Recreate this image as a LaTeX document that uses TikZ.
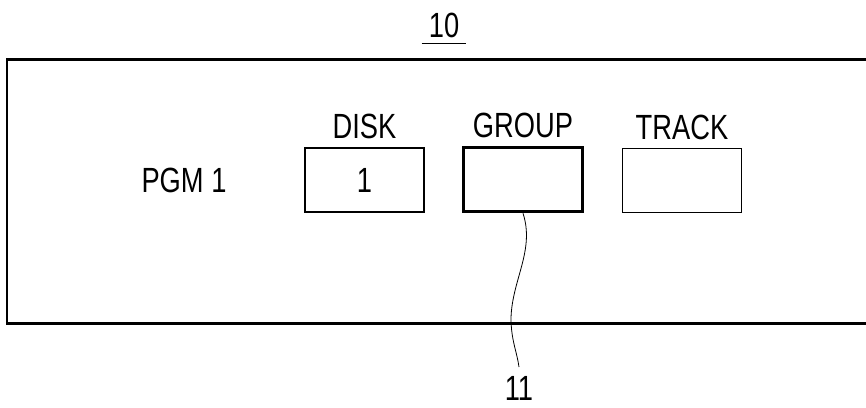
\documentclass[tikz,border=0pt]{standalone}
\usepackage{fontspec}
\setmainfont{Liberation Sans}[FakeStretch=0.78]
\usetikzlibrary{positioning}

\begin{document}
\begin{tikzpicture}[x=1pt, y=-1pt,
    txt/.style={font=\fontsize{35}{40}\selectfont, inner sep=0pt},
    field/.style={draw, line width=1.6pt, minimum width=119pt, minimum height=64pt,
                  inner sep=0pt, font=\fontsize{35}{40}\selectfont}]
    \useasboundingbox (0,0) rectangle (866,407) ;
    % panel
    \draw [line width=2.4pt] (866,59.5) -- (7,59.5) -- (7,323.5) -- (866,323.5) ;
    \node [txt] (ten) at (444,25) {10} ;
    \draw [line width=1.2pt] ([xshift=-7pt,yshift=-6pt]ten.south west) -- ([xshift=7pt,yshift=-6pt]ten.south east) ;

    % fields
    \node [txt] (pgm) at (184,180) {PGM 1} ;
    \node [field] (disk) at (364.5,180) {1} ;
    \node [field, line width=3.6pt] (group) at (523,179.5) {} ;
    \node [field] (track) at (682,180.5) {} ;
    \node [txt, above=8pt of disk] (disklbl) {DISK} ;
    \node [txt, above=8pt of group] (grouplbl) {GROUP} ;
    \node [txt, above=8pt of track] (tracklbl) {TRACK} ;

    % leader
    \coordinate (tip) at (519,367) ;
    \draw [line width=0.8pt] (group.south) .. controls (535,250) and (512,280) .. (511,318)
        .. controls (511,340) and (517,352) .. (tip) ;
    \node [txt, below=9pt of tip] (ref) {11} ;
\end{tikzpicture}
\end{document}
